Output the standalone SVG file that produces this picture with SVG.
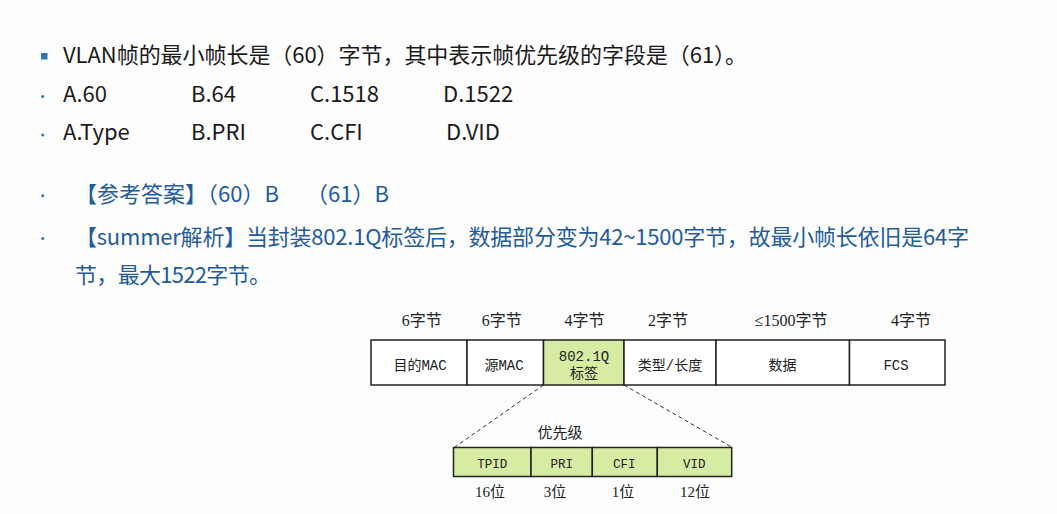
<svg xmlns="http://www.w3.org/2000/svg" width="1057" height="514" viewBox="0 0 1057 514">
  <style>
    .q { font-family: "Noto Sans CJK SC", "Noto Sans", sans-serif; font-size: 22px; fill: #1a1a1a; }
    .a { font-family: "Noto Sans CJK SC", "Noto Sans", sans-serif; font-size: 22px; fill: #1f5c9c; }
    .dot { fill: #2e75b6; }
    .hdr { font-family: "Liberation Serif", "Noto Sans CJK SC", serif; font-size: 16px; fill: #222; text-anchor: middle; }
    .lbl { font-family: "Liberation Mono", "Noto Sans CJK SC", monospace; font-size: 14px; fill: #222; text-anchor: middle; }
    .sub { font-family: "Liberation Mono", "Noto Sans CJK SC", monospace; font-size: 12.5px; fill: #222; text-anchor: middle; }
    .box { fill: #ffffff; stroke: #222; stroke-width: 1.5; }
    .g { fill: #d6eca2; stroke: #222; stroke-width: 1.5; }
    .dash { stroke: #333; stroke-width: 1; stroke-dasharray: 4 3; fill: none; }
  </style>
  <rect x="0" y="0" width="1057" height="514" fill="#fdfdfd"/>

  <!-- Question -->
  <rect class="dot" x="41" y="53" width="6.5" height="6.5"/>
  <text class="q" x="63" y="63" textLength="684">VLAN帧的最小帧长是（60）字节，其中表示帧优先级的字段是（61）。</text>

  <circle class="dot" cx="42.7" cy="96.5" r="1.5"/>
  <text class="q" x="63" y="101.5">A.60</text>
  <text class="q" x="191" y="101.5">B.64</text>
  <text class="q" x="310" y="101.5">C.1518</text>
  <text class="q" x="443" y="101.5">D.1522</text>

  <circle class="dot" cx="42.7" cy="135" r="1.5"/>
  <text class="q" x="63" y="139.5">A.Type</text>
  <text class="q" x="191" y="139.5">B.PRI</text>
  <text class="q" x="310" y="139.5">C.CFI</text>
  <text class="q" x="446" y="139.5">D.VID</text>

  <!-- Answer -->
  <circle class="dot" cx="42.7" cy="195.7" r="1.5"/>
  <text class="a" x="75" y="201.5">【参考答案】（60）B</text>
  <text class="a" x="306" y="201.5">（61）B</text>

  <circle class="dot" cx="42.7" cy="238.5" r="1.5"/>
  <text class="a" x="75" y="245" textLength="894">【summer解析】当封装802.1Q标签后，数据部分变为42~1500字节，故最小帧长依旧是64字</text>
  <text class="a" x="75" y="283.3" textLength="196">节，最大1522字节。</text>

  <!-- Frame header labels -->
  <g id="headers">
    <text class="hdr" x="421.7" y="326">6字节</text>
    <text class="hdr" x="501.7" y="326">6字节</text>
    <text class="hdr" x="584.5" y="326">4字节</text>
    <text class="hdr" x="668" y="326">2字节</text>
    <text class="hdr" x="791" y="326">≤1500字节</text>
    <text class="hdr" x="911" y="326">4字节</text>
  </g>

  <!-- Connectors -->
  <g id="connectors">
    <line class="dash" x1="543.5" y1="385" x2="455" y2="447"/>
    <line class="dash" x1="624" y1="385" x2="731.5" y2="447"/>
  </g>

  <!-- Ethernet frame fields -->
  <g id="node-dstmac">
    <rect class="box" x="371" y="340" width="96" height="45"/>
    <text class="lbl" x="420" y="370">目的MAC</text>
  </g>
  <g id="node-srcmac">
    <rect class="box" x="467" y="340" width="76.5" height="45"/>
    <text class="lbl" x="504" y="370">源MAC</text>
  </g>
  <g id="node-tag">
    <rect class="g" x="543.5" y="340" width="80.5" height="45"/>
    <text class="lbl" x="584" y="361">802.1Q</text>
    <text class="lbl" x="584" y="378">标签</text>
  </g>
  <g id="node-type">
    <rect class="box" x="624" y="340" width="92" height="45"/>
    <text class="lbl" x="670" y="370">类型/长度</text>
  </g>
  <g id="node-data">
    <rect class="box" x="716" y="340" width="133.5" height="45"/>
    <text class="lbl" x="782.5" y="370">数据</text>
  </g>
  <g id="node-fcs">
    <rect class="box" x="849.5" y="340" width="95.5" height="45"/>
    <text class="lbl" x="896" y="370">FCS</text>
  </g>

  <!-- Tag detail -->
  <text class="hdr" x="560" y="437.5" style="font-size:15px">优先级</text>
  <g id="node-tpid">
    <rect class="g" x="453.5" y="447.5" width="77.5" height="29"/>
    <text class="sub" x="492.3" y="468">TPID</text>
  </g>
  <g id="node-pri">
    <rect class="g" x="531" y="447.5" width="61.3" height="29"/>
    <text class="sub" x="561.7" y="468">PRI</text>
  </g>
  <g id="node-cfi">
    <rect class="g" x="592.3" y="447.5" width="65" height="29"/>
    <text class="sub" x="624.3" y="468">CFI</text>
  </g>
  <g id="node-vid">
    <rect class="g" x="657.3" y="447.5" width="74.4" height="29"/>
    <text class="sub" x="694.3" y="468">VID</text>
  </g>
  <g id="bits">
    <text class="hdr" x="490" y="497" style="font-size:15px">16位</text>
    <text class="hdr" x="555" y="497" style="font-size:15px">3位</text>
    <text class="hdr" x="623" y="497" style="font-size:15px">1位</text>
    <text class="hdr" x="695" y="497" style="font-size:15px">12位</text>
  </g>
</svg>
